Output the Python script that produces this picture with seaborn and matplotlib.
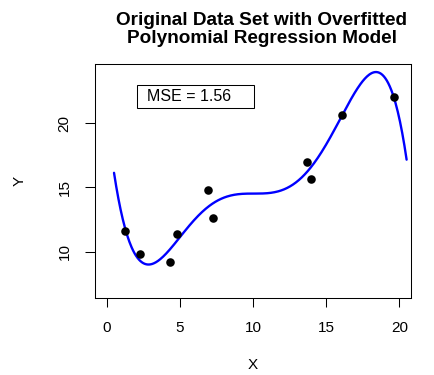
import numpy as np
import pandas as pd
import matplotlib
matplotlib.use("Agg")
import matplotlib.pyplot as plt
from matplotlib.patches import Rectangle
import seaborn as sns

# Observed data set
x_vals = [1.26, 2.27, 4.35, 4.81, 6.91, 7.28, 13.67, 13.94, 16.07, 19.62]
y_vals = [11.61, 9.82, 9.17, 11.38, 14.83, 12.62, 16.96, 15.69, 20.65, 22.02]

# Overfitted model: degree-5 polynomial, evaluated over the plotted x domain
poly_degree = 5
curve_domain = (0.5, 20.5)
mse_label = "MSE = 1.56"

x_ticks = [0, 5, 10, 15, 20]
y_ticks = [10, 15, 20]

sns.set_style("white")
plt.rcParams["font.family"] = ["Liberation Sans", "DejaVu Sans"]
plt.rcParams.update({"text.color": "black", "axes.labelcolor": "black",
                     "xtick.color": "black", "ytick.color": "black"})

W, H = 435, 375
fig = plt.figure(figsize=(W / 100, H / 100), dpi=100)
left, right, top, bottom = 95, 411, 64, 298
ax = fig.add_axes([left / W, 1 - bottom / H, (right - left) / W, (bottom - top) / H])

data = pd.DataFrame({"X": x_vals, "Y": y_vals})
coef = np.polyfit(data["X"], data["Y"], poly_degree)
grid = np.linspace(curve_domain[0], curve_domain[1], 400)
fit = pd.DataFrame({"X": grid, "Y": np.polyval(coef, grid)})

sns.lineplot(data=fit, x="X", y="Y", ax=ax, color="#0000FF", lw=1.7, zorder=3)
sns.scatterplot(data=data, x="X", y="Y", ax=ax, color="black", s=38,
                linewidth=0, zorder=4)

ax.set_xlim(-0.8, 20.8)
ax.set_ylim(6.4, 24.6)
ax.set_xticks(x_ticks)
ax.set_yticks(y_ticks)
ax.set_xticklabels([str(t) for t in x_ticks])
ax.set_yticklabels([str(t) for t in y_ticks], rotation=90, va="center")
ax.tick_params(axis="x", which="major", direction="out", length=6.8,
               width=0.75, labelsize=11, pad=9.5, bottom=True)
ax.tick_params(axis="y", which="major", direction="out", length=7.5,
               width=0.75, labelsize=11, pad=9.5, left=True)
for side in ax.spines.values():
    side.set_visible(True)
    side.set_color("black")
    side.set_linewidth(0.75)
ax.set_xlabel("")
ax.set_ylabel("")

# Legend-style box with the error statistic, anchored at (2, 23)
ax.add_patch(Rectangle((2.05, 21.17), 8.04, 1.83, fc="white", ec="black",
                       lw=0.75, zorder=5))
ax.text(2.75, 22.08, mse_label, ha="left", va="center", fontsize=11.5,
        zorder=6)

fig.text(262 / W, 1 - 29.5 / H,
         "Original Data Set with Overfitted\nPolynomial Regression Model",
         ha="center", va="center", fontsize=13.7, fontweight="bold",
         linespacing=1.1)
fig.text(253 / W, 1 - 365 / H, "X", ha="center", va="center", fontsize=11)
fig.text(20 / W, 1 - 181 / H, "Y", ha="center", va="center", fontsize=11,
         rotation=90)

fig.savefig("out.png", dpi=100)
